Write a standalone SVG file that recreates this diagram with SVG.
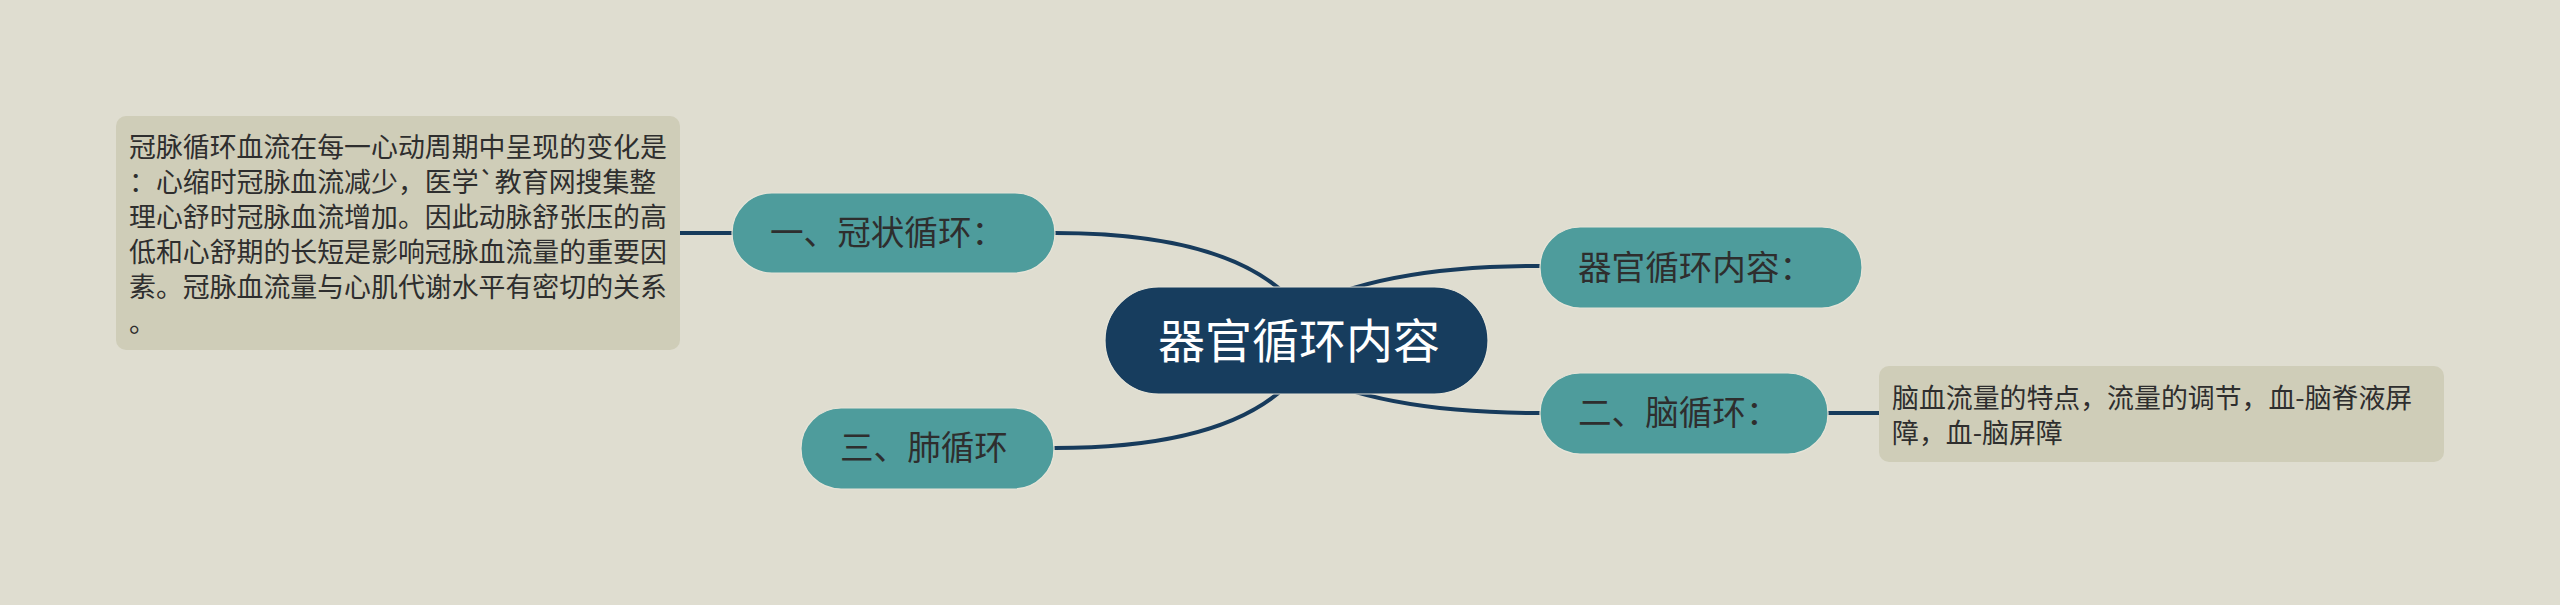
<svg xmlns="http://www.w3.org/2000/svg" width="2560" height="605" viewBox="0 0 2560 605">
<style>
.bg{fill:#dfddd0}
.conn{fill:none;stroke:#173b5c;stroke-width:4;stroke-linecap:round}
.sub{fill:#4e9c9c;stroke:#e6e4d8;stroke-width:1.2}
.root{fill:#173d5e;stroke:#e6e4d8;stroke-width:1.2}
.note{fill:#cfcdb8}
.t{font-family:"Noto Sans CJK SC","Noto Sans",sans-serif;fill:#2e2e2e}
.ts{font-size:33.6px}
.tn{font-size:26.9px}
.tr{font-size:47px;fill:#ffffff}
</style>
<rect class="bg" x="0" y="0" width="2560" height="605"/>
<g id="connectors">
<path class="conn" d="M1055,233 Q1240,233 1300,310"/>
<path class="conn" d="M1055,448 Q1240,448 1300,371"/>
<path class="conn" d="M1300,310 Q1380,266 1540,266"/>
<path class="conn" d="M1300,370 Q1380,413 1540,413"/>
<path class="conn" d="M680,233 L732,233"/>
<path class="conn" d="M1828,413 L1879,413"/>
</g>
<g id="root">
<rect class="root" x="1105" y="287" width="383" height="107" rx="53.5"/>
<text class="t tr" x="1158" y="358">器官循环内容</text>
</g>
<g id="node-guanzhuang">
<rect class="sub" x="732" y="193" width="323" height="80" rx="40"/>
<text class="t ts" x="770" y="245">一、冠状循环：</text>
</g>
<g id="node-feixunhuan">
<rect class="sub" x="801" y="408" width="253" height="81" rx="40"/>
<text class="t ts" x="840" y="460">三、肺循环</text>
</g>
<g id="node-neirong">
<rect class="sub" x="1540" y="227" width="322" height="81" rx="40"/>
<text class="t ts" x="1578" y="280">器官循环内容：</text>
</g>
<g id="node-naoxunhuan">
<rect class="sub" x="1540" y="373" width="288" height="81" rx="40"/>
<text class="t ts" x="1578" y="425">二、脑循环：</text>
</g>
<g id="note-guanzhuang">
<rect class="note" x="116" y="116" width="564" height="234" rx="10"/>
<text class="t tn" x="129" y="157">冠脉循环血流在每一心动周期中呈现的变化是</text>
<text class="t tn" x="129" y="192">：心缩时冠脉血流减少，医学`教育网搜集整</text>
<text class="t tn" x="129" y="227">理心舒时冠脉血流增加。因此动脉舒张压的高</text>
<text class="t tn" x="129" y="262">低和心舒期的长短是影响冠脉血流量的重要因</text>
<text class="t tn" x="129" y="297">素。冠脉血流量与心肌代谢水平有密切的关系</text>
<text class="t tn" x="129" y="332">。</text>
</g>
<g id="note-naoxunhuan">
<rect class="note" x="1879" y="366" width="565" height="96" rx="10"/>
<text class="t tn" x="1892" y="408">脑血流量的特点，流量的调节，血-脑脊液屏</text>
<text class="t tn" x="1892" y="443">障，血-脑屏障</text>
</g>
</svg>
